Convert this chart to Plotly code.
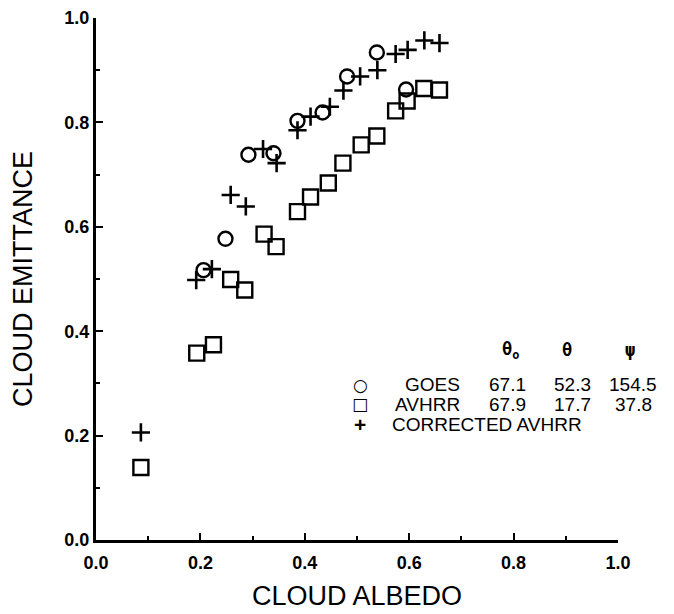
import plotly.graph_objects as go

# GOES
goes_x = [0.206, 0.248, 0.292, 0.340, 0.386, 0.434, 0.481, 0.538, 0.594]
goes_y = [0.517, 0.577, 0.738, 0.741, 0.803, 0.819, 0.888, 0.934, 0.863]

# AVHRR
avhrr_x = [0.086, 0.193, 0.225, 0.258, 0.285, 0.322, 0.345, 0.386, 0.411,
           0.445, 0.473, 0.508, 0.538, 0.574, 0.596, 0.628, 0.658]
avhrr_y = [0.139, 0.358, 0.374, 0.499, 0.479, 0.586, 0.562, 0.629, 0.657,
           0.684, 0.722, 0.757, 0.774, 0.822, 0.841, 0.865, 0.862]

# Corrected AVHRR
corr_x = [0.086, 0.192, 0.222, 0.258, 0.287, 0.320, 0.346, 0.386, 0.411,
          0.448, 0.474, 0.506, 0.539, 0.574, 0.597, 0.629, 0.658]
corr_y = [0.206, 0.498, 0.519, 0.661, 0.639, 0.749, 0.722, 0.785, 0.811,
          0.830, 0.861, 0.888, 0.900, 0.931, 0.939, 0.957, 0.952]

tick_vals = [0.0, 0.2, 0.4, 0.6, 0.8, 1.0]
tick_text = ["0.0", "0.2", "0.4", "0.6", "0.8", "1.0"]

legend_header = ["θ<sub>o</sub>", "θ", "ψ"]
legend_rows = [
    ("○", "GOES", ["67.1", "52.3", "154.5"]),
    ("□", "AVHRR", ["67.9", "17.7", "37.8"]),
]
legend_last = ("+", "CORRECTED AVHRR")

FONT = "Liberation Sans, Arial, sans-serif"

fig = go.Figure()
fig.add_trace(go.Scatter(x=goes_x, y=goes_y, mode="markers", name="GOES",
                         marker=dict(symbol="circle-open", size=14, color="black",
                                     line=dict(width=2.4, color="black"))))
fig.add_trace(go.Scatter(x=avhrr_x, y=avhrr_y, mode="markers", name="AVHRR",
                         marker=dict(symbol="square-open", size=15, color="black",
                                     line=dict(width=2.4, color="black"))))
fig.add_trace(go.Scatter(x=corr_x, y=corr_y, mode="markers", name="CORRECTED AVHRR",
                         marker=dict(symbol="cross-thin-open", size=13, color="black",
                                     line=dict(width=2.6, color="black"))))

def px2paper(px, py):
    return (px - 96) / 522.0, (540 - py) / 522.0

anns = []
lf = dict(family=FONT, size=19, color="black")
hdr_x = [510, 567, 630]
for hx, h in zip(hdr_x, legend_header):
    xp, yp = px2paper(hx, 350)
    anns.append(dict(x=xp, y=yp, xref="paper", yref="paper", text="<b>" + h + "</b>",
                     showarrow=False, font=dict(family="DejaVu Sans Mono, monospace", size=17, color="black"),
                     xanchor="center", yanchor="middle"))
row_y = [385, 404]
num_x = [507, 572, 633]
for ry, (sym, name, nums) in zip(row_y, legend_rows):
    xp, yp = px2paper(360, ry)
    anns.append(dict(x=xp, y=yp, xref="paper", yref="paper", text="<b>" + sym + "</b>", showarrow=False,
                     font=dict(family="DejaVu Sans", size=17, color="black"),
                     xanchor="center", yanchor="middle"))
    xp, yp = px2paper(462, ry)
    anns.append(dict(x=xp, y=yp, xref="paper", yref="paper", text=name, showarrow=False,
                     font=lf, xanchor="right", yanchor="middle"))
    for nx, n in zip(num_x, nums):
        xp, yp = px2paper(nx, ry)
        anns.append(dict(x=xp, y=yp, xref="paper", yref="paper", text=n, showarrow=False,
                         font=lf, xanchor="center", yanchor="middle"))
xp, yp = px2paper(360, 424)
anns.append(dict(x=xp, y=yp, xref="paper", yref="paper", text="<b>" + legend_last[0] + "</b>",
                 showarrow=False, font=dict(family=FONT, size=21, color="black"),
                 xanchor="center", yanchor="middle"))
xp, yp = px2paper(390, 424)
anns.append(dict(x=xp, y=yp, xref="paper", yref="paper", text=legend_last[1], showarrow=False,
                 font=lf, xanchor="left", yanchor="middle"))

axis_common = dict(
    range=[0, 1], tickvals=tick_vals, ticktext=tick_text,
    ticks="inside", ticklen=7, tickwidth=2, tickcolor="black",
    minor=dict(dtick=0.1, ticks="inside", ticklen=4, tickwidth=2, tickcolor="black"),
    showline=True, linewidth=3, linecolor="black", showgrid=False, zeroline=False,
    tickfont=dict(family=FONT, size=18, color="black", weight="bold"),
    automargin=False,
)

fig.update_layout(
    width=674, height=614,
    margin=dict(l=96, r=56, t=18, b=74, autoexpand=False),
    paper_bgcolor="white", plot_bgcolor="white",
    showlegend=False,
    xaxis=dict(**axis_common, ticklabelstandoff=4,
               title=dict(text="CLOUD ALBEDO", font=dict(family=FONT, size=27, color="black"), standoff=15)),
    yaxis=dict(**axis_common,
               title=dict(text="CLOUD EMITTANCE", font=dict(family=FONT, size=27, color="black"), standoff=24)),
    annotations=anns,
)

fig.write_html("out.html", config=dict(displayModeBar=False, staticPlot=True),
               post_script="document.body.style.margin='0px';document.body.style.overflow='hidden';")
